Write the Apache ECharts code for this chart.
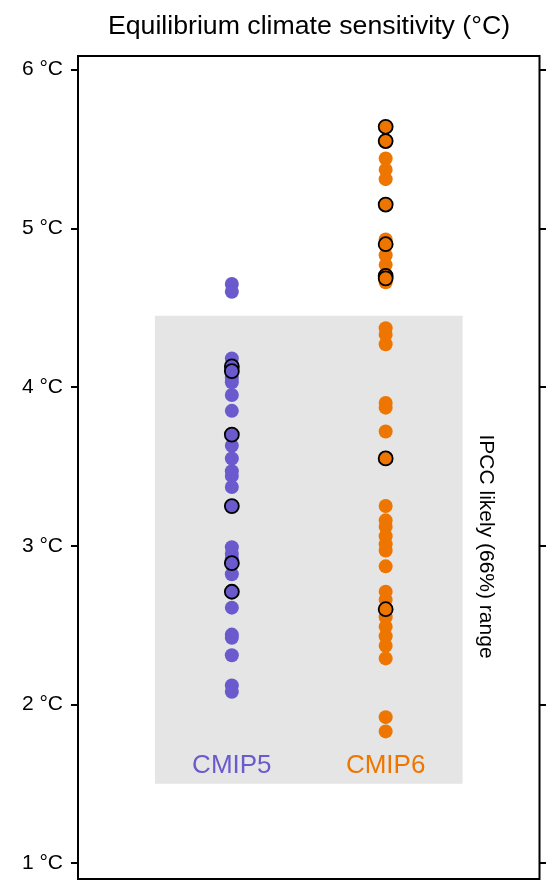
<!DOCTYPE html>
<html>
<head>
<meta charset="utf-8">
<script src="https://cdn.jsdelivr.net/npm/echarts@6/dist/echarts.min.js"></script>
<style>
html,body{margin:0;padding:0;background:#fff;}
#chart{width:546px;height:880px;}
</style>
</head>
<body>
<div id="chart"></div>
<script>
// ---- data ----
const categories = ['CMIP5', 'CMIP6'];
const categoryPos = [1, 2];
const yTicks = [1, 2, 3, 4, 5, 6];
const likelyRange = [1.5, 4.45];
const likelyLabel = 'IPCC likely (66%) range';
const titleText = 'Equilibrium climate sensitivity (°C)';

const cmip5Filled = [4.65, 4.60, 4.18, 4.06, 4.03, 3.95, 3.85, 3.63, 3.55, 3.47, 3.44, 3.37, 2.99, 2.95, 2.92, 2.82, 2.61, 2.44, 2.42, 2.31, 2.12, 2.08];
const cmip5Highlighted = [4.13, 4.10, 3.70, 3.25, 2.89, 2.71];
const cmip6Filled = [5.44, 5.37, 5.31, 4.93, 4.83, 4.77, 4.66, 4.37, 4.33, 4.27, 3.90, 3.87, 3.72, 3.25, 3.16, 3.12, 3.06, 3.01, 2.97, 2.87, 2.71, 2.66, 2.55, 2.49, 2.43, 2.37, 2.29, 1.92, 1.83];
const cmip6Highlighted = [5.64, 5.55, 5.15, 4.90, 4.70, 4.685, 3.55, 2.60];

// ---- styling ----
const colors = ['#6A5ACD', '#EE7600'];
const FONT = 'Liberation Sans, Arial, Helvetica, sans-serif';

const chart = echarts.init(document.getElementById('chart'), null, {renderer: 'canvas'});

function pts(x, arr) { return arr.map(v => [x, v]); }

const series = [];
// background likely range
series.push({
  type: 'scatter', data: [], silent: true, z: 0,
  markArea: {
    silent: true,
    itemStyle: {color: '#E5E5E5'},
    data: [[{xAxis: 0.5, yAxis: likelyRange[0]}, {xAxis: 2.5, yAxis: likelyRange[1]}]]
  }
});
categories.forEach((c, i) => {
  const filled = i === 0 ? cmip5Filled : cmip6Filled;
  const hl = i === 0 ? cmip5Highlighted : cmip6Highlighted;
  series.push({
    type: 'scatter', name: c, z: 3, symbol: 'circle', symbolSize: 14,
    data: pts(categoryPos[i], filled),
    itemStyle: {color: colors[i], opacity: 1},
    emphasis: {disabled: true}
  });
  series.push({
    type: 'scatter', name: c + ' highlighted', z: 4, symbol: 'circle', symbolSize: 14,
    data: pts(categoryPos[i], hl),
    itemStyle: {color: colors[i], borderColor: '#000', borderWidth: 1.8, opacity: 1},
    emphasis: {disabled: true}
  });
});

const labelCommon = {
  show: true, position: 'inside', formatter: p => p.name,
  fontFamily: FONT, align: 'center', verticalAlign: 'middle',
  opacity: 1, textBorderWidth: 0, textBorderColor: 'transparent', textShadowBlur: 0
};
// category labels
series.push({
  type: 'scatter', z: 5, symbolSize: 0, silent: true,
  itemStyle: {color: '#fff', opacity: 1},
  emphasis: {disabled: true},
  data: categories.map((c, i) => ({
    value: [categoryPos[i], 1.615], name: c,
    itemStyle: {color: colors[i]},
    label: {color: colors[i]}
  })),
  label: Object.assign({}, labelCommon, {fontSize: 26})
});
// IPCC label
series.push({
  type: 'scatter', z: 5, symbolSize: 0, silent: true,
  itemStyle: {color: '#000', opacity: 1},
  emphasis: {disabled: true},
  data: [{value: [2.65, (likelyRange[0] + likelyRange[1]) / 2 + 0.02], name: likelyLabel}],
  label: Object.assign({}, labelCommon, {fontSize: 21, color: '#000', rotate: -90})
});

const yAxisBase = {
  type: 'value', min: 0.9, max: 6.086,
  axisLine: {show: false},
  splitLine: {show: false},
  axisTick: {show: true, inside: false, length: 7, customValues: yTicks, lineStyle: {color: '#000', width: 2}}
};

chart.setOption({
  animation: false,
  backgroundColor: '#fff',
  title: {
    text: titleText, left: 304, top: 8, textAlign: 'center',
    textStyle: {fontSize: 26.7, fontWeight: 'normal', color: '#000', fontFamily: FONT}
  },
  grid: {
    left: 78, right: 6.5, top: 56, bottom: 1,
    show: true, borderColor: '#000', borderWidth: 2, backgroundColor: 'transparent'
  },
  xAxis: {type: 'value', min: 0, max: 3, show: false},
  yAxis: [
    Object.assign({}, yAxisBase, {
      position: 'left',
      axisLabel: {show: true, customValues: yTicks, formatter: v => v + ' °C', fontSize: 21, color: '#000', fontFamily: FONT, margin: 15}
    }),
    Object.assign({}, yAxisBase, {
      position: 'right',
      axisLabel: {show: false}
    })
  ],
  series: series
});
</script>
</body>
</html>
